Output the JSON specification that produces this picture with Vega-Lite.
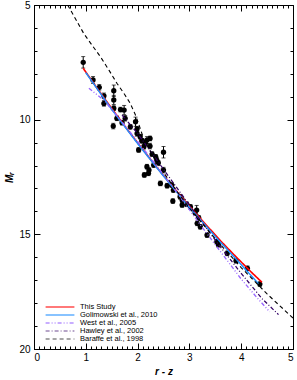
{
  "$schema": "https://vega.github.io/schema/vega-lite/v6.json",
  "width": 259,
  "height": 344,
  "autosize": "none",
  "padding": {"left": 34, "top": 5, "right": 4, "bottom": 31},
  "datasets": {
    "pts": [
      {"rz": 0.95, "M": 7.50, "err": 0.25},
      {"rz": 1.14, "M": 8.27, "err": 0.15},
      {"rz": 1.26, "M": 8.59, "err": 0.12},
      {"rz": 1.35, "M": 8.96, "err": 0.12},
      {"rz": 1.35, "M": 9.29, "err": 0.12},
      {"rz": 1.54, "M": 8.74, "err": 0.25},
      {"rz": 1.54, "M": 9.14, "err": 0.2},
      {"rz": 1.54, "M": 9.50, "err": 0.1},
      {"rz": 1.53, "M": 10.28, "err": 0.12},
      {"rz": 1.74, "M": 9.58, "err": 0.2},
      {"rz": 1.67, "M": 9.56, "err": 0.1},
      {"rz": 1.60, "M": 9.94, "err": 0.1},
      {"rz": 1.76, "M": 9.94, "err": 0.12},
      {"rz": 1.70, "M": 10.13, "err": 0.1},
      {"rz": 1.86, "M": 10.31, "err": 0.1},
      {"rz": 1.96, "M": 10.09, "err": 0.2},
      {"rz": 1.99, "M": 10.40, "err": 0.1},
      {"rz": 1.99, "M": 10.60, "err": 0.12},
      {"rz": 2.05, "M": 10.74, "err": 0.1},
      {"rz": 2.08, "M": 10.92, "err": 0.1},
      {"rz": 2.18, "M": 10.89, "err": 0.15},
      {"rz": 2.12, "M": 11.18, "err": 0.1},
      {"rz": 2.02, "M": 11.32, "err": 0.1},
      {"rz": 2.24, "M": 10.82, "err": 0.1},
      {"rz": 2.15, "M": 11.03, "err": 0.1},
      {"rz": 2.24, "M": 11.15, "err": 0.12},
      {"rz": 2.50, "M": 11.42, "err": 0.25},
      {"rz": 2.28, "M": 11.50, "err": 0.1},
      {"rz": 2.35, "M": 11.62, "err": 0.1},
      {"rz": 2.37, "M": 11.76, "err": 0.1},
      {"rz": 2.40, "M": 11.88, "err": 0.1},
      {"rz": 2.31, "M": 11.98, "err": 0.1},
      {"rz": 2.18, "M": 12.05, "err": 0.1},
      {"rz": 2.22, "M": 12.20, "err": 0.1},
      {"rz": 2.13, "M": 12.41, "err": 0.1},
      {"rz": 2.21, "M": 12.34, "err": 0.1},
      {"rz": 2.50, "M": 12.20, "err": 0.12},
      {"rz": 2.44, "M": 12.78, "err": 0.1},
      {"rz": 2.57, "M": 12.88, "err": 0.1},
      {"rz": 2.66, "M": 12.85, "err": 0.1},
      {"rz": 2.69, "M": 13.07, "err": 0.1},
      {"rz": 2.68, "M": 13.55, "err": 0.1},
      {"rz": 2.82, "M": 13.36, "err": 0.1},
      {"rz": 2.86, "M": 13.50, "err": 0.1},
      {"rz": 2.86, "M": 13.72, "err": 0.1},
      {"rz": 2.95, "M": 13.69, "err": 0.1},
      {"rz": 3.02, "M": 13.80, "err": 0.1},
      {"rz": 3.14, "M": 13.94, "err": 0.2},
      {"rz": 3.11, "M": 14.06, "err": 0.1},
      {"rz": 3.18, "M": 14.28, "err": 0.1},
      {"rz": 3.15, "M": 14.52, "err": 0.1},
      {"rz": 3.21, "M": 14.67, "err": 0.1},
      {"rz": 3.34, "M": 15.03, "err": 0.1},
      {"rz": 3.53, "M": 15.32, "err": 0.1},
      {"rz": 3.56, "M": 15.45, "err": 0.1},
      {"rz": 3.73, "M": 15.83, "err": 0.1},
      {"rz": 3.90, "M": 16.15, "err": 0.1},
      {"rz": 4.12, "M": 16.48, "err": 0.1},
      {"rz": 4.36, "M": 17.17, "err": 0.1}
    ],
    "lines": [
      {"s": "This Study", "rz": 0.95, "M": 7.76},
      {"s": "This Study", "rz": 1.2, "M": 8.57},
      {"s": "This Study", "rz": 1.5, "M": 9.51},
      {"s": "This Study", "rz": 1.8, "M": 10.42},
      {"s": "This Study", "rz": 2.1, "M": 11.30},
      {"s": "This Study", "rz": 2.4, "M": 12.16},
      {"s": "This Study", "rz": 2.7, "M": 12.98},
      {"s": "This Study", "rz": 3.0, "M": 13.77},
      {"s": "This Study", "rz": 3.3, "M": 14.53},
      {"s": "This Study", "rz": 3.6, "M": 15.28},
      {"s": "This Study", "rz": 3.9, "M": 15.98},
      {"s": "This Study", "rz": 4.2, "M": 16.66},
      {"s": "This Study", "rz": 4.4, "M": 17.09},
      {"s": "Golimowski et al., 2010", "rz": 1.0, "M": 7.95},
      {"s": "Golimowski et al., 2010", "rz": 1.5, "M": 9.55},
      {"s": "Golimowski et al., 2010", "rz": 2.0, "M": 11.04},
      {"s": "Golimowski et al., 2010", "rz": 2.5, "M": 12.46},
      {"s": "Golimowski et al., 2010", "rz": 3.0, "M": 13.82},
      {"s": "Golimowski et al., 2010", "rz": 3.5, "M": 15.1},
      {"s": "Golimowski et al., 2010", "rz": 4.0, "M": 16.32},
      {"s": "Golimowski et al., 2010", "rz": 4.33, "M": 17.15},
      {"s": "West et al., 2005", "rz": 1.06, "M": 8.63},
      {"s": "West et al., 2005", "rz": 1.35, "M": 9.15},
      {"s": "West et al., 2005", "rz": 1.7, "M": 10.1},
      {"s": "West et al., 2005", "rz": 2.0, "M": 10.95},
      {"s": "West et al., 2005", "rz": 2.4, "M": 12.1},
      {"s": "West et al., 2005", "rz": 2.8, "M": 13.3},
      {"s": "West et al., 2005", "rz": 3.2, "M": 14.55},
      {"s": "West et al., 2005", "rz": 3.6, "M": 15.75},
      {"s": "West et al., 2005", "rz": 4.0, "M": 16.95},
      {"s": "West et al., 2005", "rz": 4.3, "M": 17.75},
      {"s": "West et al., 2005", "rz": 4.55, "M": 18.38},
      {"s": "Hawley et al., 2002", "rz": 1.7, "M": 9.8},
      {"s": "Hawley et al., 2002", "rz": 2.0, "M": 10.6},
      {"s": "Hawley et al., 2002", "rz": 2.4, "M": 11.85},
      {"s": "Hawley et al., 2002", "rz": 2.8, "M": 13.1},
      {"s": "Hawley et al., 2002", "rz": 3.2, "M": 14.35},
      {"s": "Hawley et al., 2002", "rz": 3.6, "M": 15.55},
      {"s": "Hawley et al., 2002", "rz": 4.0, "M": 16.7},
      {"s": "Hawley et al., 2002", "rz": 4.4, "M": 17.8},
      {"s": "Hawley et al., 2002", "rz": 4.72, "M": 18.5},
      {"s": "Baraffe et al., 1998", "rz": 0.65, "M": 5.0},
      {"s": "Baraffe et al., 1998", "rz": 0.8, "M": 5.6},
      {"s": "Baraffe et al., 1998", "rz": 0.96, "M": 6.24},
      {"s": "Baraffe et al., 1998", "rz": 1.12, "M": 6.75},
      {"s": "Baraffe et al., 1998", "rz": 1.28, "M": 7.25},
      {"s": "Baraffe et al., 1998", "rz": 1.45, "M": 7.85},
      {"s": "Baraffe et al., 1998", "rz": 1.6, "M": 8.41},
      {"s": "Baraffe et al., 1998", "rz": 1.75, "M": 8.9},
      {"s": "Baraffe et al., 1998", "rz": 1.86, "M": 9.3},
      {"s": "Baraffe et al., 1998", "rz": 1.95, "M": 9.75},
      {"s": "Baraffe et al., 1998", "rz": 2.03, "M": 10.25},
      {"s": "Baraffe et al., 1998", "rz": 2.12, "M": 10.85},
      {"s": "Baraffe et al., 1998", "rz": 2.25, "M": 11.4},
      {"s": "Baraffe et al., 1998", "rz": 2.5, "M": 12.3},
      {"s": "Baraffe et al., 1998", "rz": 2.75, "M": 13.1},
      {"s": "Baraffe et al., 1998", "rz": 3.0, "M": 13.85},
      {"s": "Baraffe et al., 1998", "rz": 3.5, "M": 15.2},
      {"s": "Baraffe et al., 1998", "rz": 4.0, "M": 16.45},
      {"s": "Baraffe et al., 1998", "rz": 4.5, "M": 17.6},
      {"s": "Baraffe et al., 1998", "rz": 5.0, "M": 18.65}
    ]
  },
  "layer": [
    {
      "data": {"name": "pts"},
      "mark": {"type": "point", "opacity": 0},
      "encoding": {
        "x": {"field": "rz", "type": "quantitative", "scale": {"domain": [0, 5], "nice": false},
          "axis": {"orient": "bottom", "title": null, "labels": false, "grid": true, "gridOpacity": 0, "zindex": 1, "domain": true, "domainColor": "black", "ticks": true, "tickColor": "black", "tickWidth": 1, "tickSize": -3,
            "values": [0.1,0.2,0.3,0.4,0.5,0.6,0.7,0.8,0.9,1.1,1.2,1.3,1.4,1.5,1.6,1.7,1.8,1.9,2.1,2.2,2.3,2.4,2.5,2.6,2.7,2.8,2.9,3.1,3.2,3.3,3.4,3.5,3.6,3.7,3.8,3.9,4.1,4.2,4.3,4.4,4.5,4.6,4.7,4.8,4.9]}},
        "y": {"field": "M", "type": "quantitative", "scale": {"domain": [5, 20], "reverse": true, "nice": false, "zero": false},
          "axis": {"orient": "left", "title": null, "labels": false, "grid": true, "gridOpacity": 0, "zindex": 1, "domain": true, "domainColor": "black", "ticks": true, "tickColor": "black", "tickWidth": 1, "tickSize": -3,
            "values": [6,7,8,9,11,12,13,14,16,17,18,19]}}
      }
    },
    {
      "data": {"name": "pts"},
      "mark": {"type": "point", "opacity": 0},
      "encoding": {
        "x": {"field": "rz", "type": "quantitative", "scale": {"domain": [0, 5], "nice": false},
          "axis": {"orient": "top", "title": null, "labels": false, "grid": true, "gridOpacity": 0, "zindex": 1, "domain": true, "domainColor": "black", "ticks": true, "tickColor": "black", "tickWidth": 1, "tickSize": -3,
            "values": [0.1,0.2,0.3,0.4,0.5,0.6,0.7,0.8,0.9,1.1,1.2,1.3,1.4,1.5,1.6,1.7,1.8,1.9,2.1,2.2,2.3,2.4,2.5,2.6,2.7,2.8,2.9,3.1,3.2,3.3,3.4,3.5,3.6,3.7,3.8,3.9,4.1,4.2,4.3,4.4,4.5,4.6,4.7,4.8,4.9]}},
        "y": {"field": "M", "type": "quantitative", "scale": {"domain": [5, 20], "reverse": true, "nice": false, "zero": false},
          "axis": {"orient": "right", "title": null, "labels": false, "grid": true, "gridOpacity": 0, "zindex": 1, "domain": true, "domainColor": "black", "ticks": true, "tickColor": "black", "tickWidth": 1, "tickSize": -3,
            "values": [6,7,8,9,11,12,13,14,16,17,18,19]}}
      }
    },
    {
      "data": {"name": "pts"},
      "mark": {"type": "errorbar", "ticks": {"size": 4, "color": "black"}, "color": "black", "thickness": 1},
      "encoding": {
        "x": {"field": "rz", "type": "quantitative", "scale": {"domain": [0, 5], "nice": false}, "axis": null},
        "y": {"field": "M", "type": "quantitative", "scale": {"domain": [5, 20], "reverse": true, "nice": false, "zero": false}, "axis": null},
        "yError": {"field": "err"}
      }
    },
    {
      "data": {"name": "pts"},
      "mark": {"type": "circle", "size": 28, "color": "black", "opacity": 1},
      "encoding": {
        "x": {"field": "rz", "type": "quantitative", "scale": {"domain": [0, 5], "nice": false},
          "axis": {"orient": "top", "title": null, "labels": false, "grid": true, "gridOpacity": 0, "zindex": 1, "domain": true, "domainColor": "black", "ticks": true, "tickColor": "black", "tickWidth": 1, "tickSize": -6, "values": [1, 2, 3, 4]}},
        "y": {"field": "M", "type": "quantitative", "scale": {"domain": [5, 20], "reverse": true, "nice": false, "zero": false},
          "axis": {"orient": "right", "title": null, "labels": false, "grid": true, "gridOpacity": 0, "zindex": 1, "domain": true, "domainColor": "black", "ticks": true, "tickColor": "black", "tickWidth": 1, "tickSize": -6, "values": [10, 15]}}
      }
    },
    {
      "data": {"name": "lines"},
      "mark": {"type": "line", "clip": true},
      "encoding": {
        "x": {"field": "rz", "type": "quantitative", "scale": {"domain": [0, 5], "nice": false},
          "axis": {"orient": "bottom", "title": "r - z", "titleFont": "Liberation Sans", "titleColor": "black", "titleFontStyle": "italic", "titleFontWeight": "bold", "titleFontSize": 10, "titlePadding": 4,
            "grid": true, "gridOpacity": 0, "zindex": 1, "domain": true, "domainColor": "black", "ticks": true, "tickColor": "black", "tickWidth": 1, "labelColor": "black", "labelFont": "Liberation Sans", "labelFontSize": 10,
            "values": [0, 1, 2, 3, 4, 5], "format": "d", "tickSize": -6, "labelPadding": 9}},
        "y": {"field": "M", "type": "quantitative", "scale": {"domain": [5, 20], "reverse": true, "nice": false, "zero": false},
          "axis": {"orient": "left", "title": "Mᵣ", "titleFont": "Liberation Sans", "titleColor": "black", "titleFontStyle": "italic", "titleFontWeight": "bold", "titleFontSize": 10, "titlePadding": 4,
            "grid": true, "gridOpacity": 0, "zindex": 1, "domain": true, "domainColor": "black", "ticks": true, "tickColor": "black", "tickWidth": 1, "labelColor": "black", "labelFont": "Liberation Sans", "labelFontSize": 10,
            "values": [5, 10, 15, 20], "format": "d", "tickSize": -6, "labelPadding": 10}},
        "color": {"field": "s", "type": "nominal",
          "scale": {"domain": ["This Study", "Golimowski et al., 2010", "West et al., 2005", "Hawley et al., 2002", "Baraffe et al., 1998"],
                    "range": ["#ff0000", "#1e8fff", "#9966ff", "#330066", "#000000"]},
          "legend": {"orient": "none", "legendX": 22, "legendY": 298, "title": null, "symbolType": "M-4.8,0H4.8", "symbolSize": 36, "symbolStrokeWidth": 1.5, "symbolOpacity": 0.7,
            "labelFontSize": 7.5, "labelFont": "Liberation Sans", "labelColor": "black", "rowPadding": 0, "labelOffset": 16, "labelLimit": 200, "padding": 0}},
        "strokeDash": {"field": "s", "type": "nominal",
          "scale": {"domain": ["This Study", "Golimowski et al., 2010", "West et al., 2005", "Hawley et al., 2002", "Baraffe et al., 1998"],
                    "range": [[1, 0], [1, 0], [4, 2, 1, 2, 1, 2], [4, 2, 1, 2], [4, 3]]},
          "legend": {"orient": "none", "legendX": 22, "legendY": 298, "title": null, "symbolType": "M-4.8,0H4.8", "symbolSize": 36, "symbolStrokeWidth": 1.5, "symbolOpacity": 0.7,
            "labelFontSize": 7.5, "labelFont": "Liberation Sans", "labelColor": "black", "rowPadding": 0, "labelOffset": 16, "labelLimit": 200, "padding": 0}},
        "strokeWidth": {"field": "s", "type": "nominal",
          "scale": {"domain": ["This Study", "Golimowski et al., 2010", "West et al., 2005", "Hawley et al., 2002", "Baraffe et al., 1998"],
                    "range": [1.6, 1.1, 1.1, 1.1, 1.1]}, "legend": null}
      }
    }
  ],
  "resolve": {"axis": {"x": "independent", "y": "independent"}}
}
